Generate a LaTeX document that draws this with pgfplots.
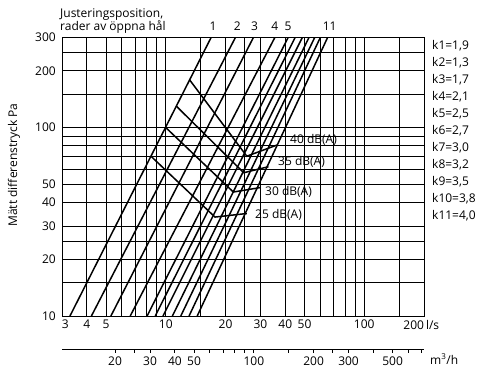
\documentclass[border=0pt]{standalone}
\usepackage{fontspec}
\setmainfont{Open Sans}
\usepackage{pgfplots}
\pgfplotsset{compat=1.18}

\begin{document}
\fontsize{12}{14}\selectfont
\begin{tikzpicture}
\useasboundingbox (-62pt,-55pt) rectangle (417pt,316pt);
\begin{axis}[
  name=main, at={(0pt,0pt)}, anchor=south west,
  scale only axis, width=362pt, height=278.3pt,
  xmode=log, ymode=log, xmin=3, xmax=200, ymin=10, ymax=300,
  xtick={3,4,5,6,7,8,9,10,15,20,25,30,40,50,60,70,80,90,100,150,200},
  xticklabels={\makebox[0pt][l]{3},4,5,,,,,10,,20,,30,40,50,,,,,100,,\makebox[0pt][r]{200}\makebox[0pt][l]{\,l/s}},
  ytick={10,15,20,25,30,40,50,60,70,80,90,100,150,200,250,300},
  yticklabels={10,,20,,30,40,50,,,,,100,,200,,300},
  grid=major, major grid style={line width=0.75pt, black},
  major tick length=0pt, minor tick length=0pt,
  axis line style={line width=0.75pt, black},
  tick label style={font=\fontsize{12}{14}\selectfont},
  yticklabel style={xshift=-2pt},
  xticklabel style={yshift=0pt},
  clip mode=individual,
  /pgf/number format/assume math mode=true,
]
% damper position lines (q at 10 Pa and at 300 Pa)
\addplot[black, line width=1.5pt] coordinates {(3.29,10) (16.9,300)};
\addplot[black, line width=1.5pt] coordinates {(4.22,10) (22.4,300)};
\addplot[black, line width=1.5pt] coordinates {(5.29,10) (27.6,300)};
\addplot[black, line width=1.5pt] coordinates {(6.62,10) (35.4,300)};
\addplot[black, line width=1.5pt] coordinates {(8.05,10) (41.3,300)};
\addplot[black, line width=1.5pt] coordinates {(8.85,10) (44.8,300)};
\addplot[black, line width=1.5pt] coordinates {(9.68,10) (48.7,300)};
\addplot[black, line width=1.5pt] coordinates {(10.8,10) (52.6,300)};
\addplot[black, line width=1.5pt] coordinates {(11.9,10) (56.2,300)};
\addplot[black, line width=1.5pt] coordinates {(13.1,10) (60.0,300)};
\addplot[black, line width=1.5pt] coordinates {(14.4,10) (65.3,300)};
% sound level curves
\addplot[black, line width=1.5pt] coordinates {(13.2,179) (25.6,70.5) (36.6,81)};
\addplot[black, line width=1.5pt] coordinates {(11.3,130) (24.7,57.6) (32.9,62)};
\addplot[black, line width=1.5pt] coordinates {(10,100) (21.9,45.5) (29.8,48)};
\addplot[black, line width=1.5pt] coordinates {(8.42,70.5) (17.7,33.5) (25.6,35)};
% top labels
\node[anchor=base, inner sep=0pt, yshift=7.5pt] at (axis cs:17.3,300) {1};
\node[anchor=base, inner sep=0pt, yshift=7.5pt] at (axis cs:22.9,300) {2};
\node[anchor=base, inner sep=0pt, yshift=7.5pt] at (axis cs:28.0,300) {3};
\node[anchor=base, inner sep=0pt, yshift=7.5pt] at (axis cs:35.4,300) {4};
\node[anchor=base, inner sep=0pt, yshift=7.5pt] at (axis cs:41.3,300) {5};
\node[anchor=base, inner sep=0pt, yshift=7.5pt] at (axis cs:66.9,300) {11};
\end{axis}
\begin{axis}[
  at={(0pt,-33pt)}, anchor=south west,
  scale only axis, width=362pt, height=10pt,
  xmode=log, xmin=10.8, xmax=720, ymin=0, ymax=1,
  axis x line=bottom, axis y line=none,
  x axis line style={-, line width=0.75pt, black},
  xtick={20,25,30,40,50,60,70,80,90,100,150,200,250,300,400,500,600,700},
  xticklabels={20,,30,40,50,,,,,100,,200,,300,,500,,},
  tick align=outside, major tick length=4pt, minor tick length=0pt,
  tick style={line width=0.75pt, black},
  tick label style={font=\fontsize{12}{14}\selectfont},
  /pgf/number format/assume math mode=true,
]
\end{axis}
% texts
\node[rotate=90, inner sep=0pt] at (-48pt,151pt) {Mätt differenstryck Pa};
\node[anchor=base west, inner sep=0pt] at (-2pt,298.5pt) {Justeringsposition,};
\node[anchor=base west, inner sep=0pt] at (-2pt,285.5pt) {rader av öppna hål};
\node[anchor=west, inner sep=0pt] at (368pt,-43pt) {m\textsuperscript{3}/h};
\node[anchor=west, inner sep=0pt] at (228pt,176pt) {40 dB(A)};
\node[anchor=west, inner sep=0pt] at (216pt,154pt) {35 dB(A)};
\node[anchor=west, inner sep=0pt] at (203pt,124pt) {30 dB(A)};
\node[anchor=west, inner sep=0pt] at (193pt,101pt) {25 dB(A)};
\node[anchor=west, inner sep=0pt] at (370pt,270pt) {k1=1,9};
\node[anchor=west, inner sep=0pt] at (370pt,253pt) {k2=1,3};
\node[anchor=west, inner sep=0pt] at (370pt,236pt) {k3=1,7};
\node[anchor=west, inner sep=0pt] at (370pt,219pt) {k4=2,1};
\node[anchor=west, inner sep=0pt] at (370pt,202pt) {k5=2,5};
\node[anchor=west, inner sep=0pt] at (370pt,185pt) {k6=2,7};
\node[anchor=west, inner sep=0pt] at (370pt,168pt) {k7=3,0};
\node[anchor=west, inner sep=0pt] at (370pt,151pt) {k8=3,2};
\node[anchor=west, inner sep=0pt] at (370pt,134pt) {k9=3,5};
\node[anchor=west, inner sep=0pt] at (370pt,117pt) {k10=3,8};
\node[anchor=west, inner sep=0pt] at (370pt,100pt) {k11=4,0};
\end{tikzpicture}
\end{document}
